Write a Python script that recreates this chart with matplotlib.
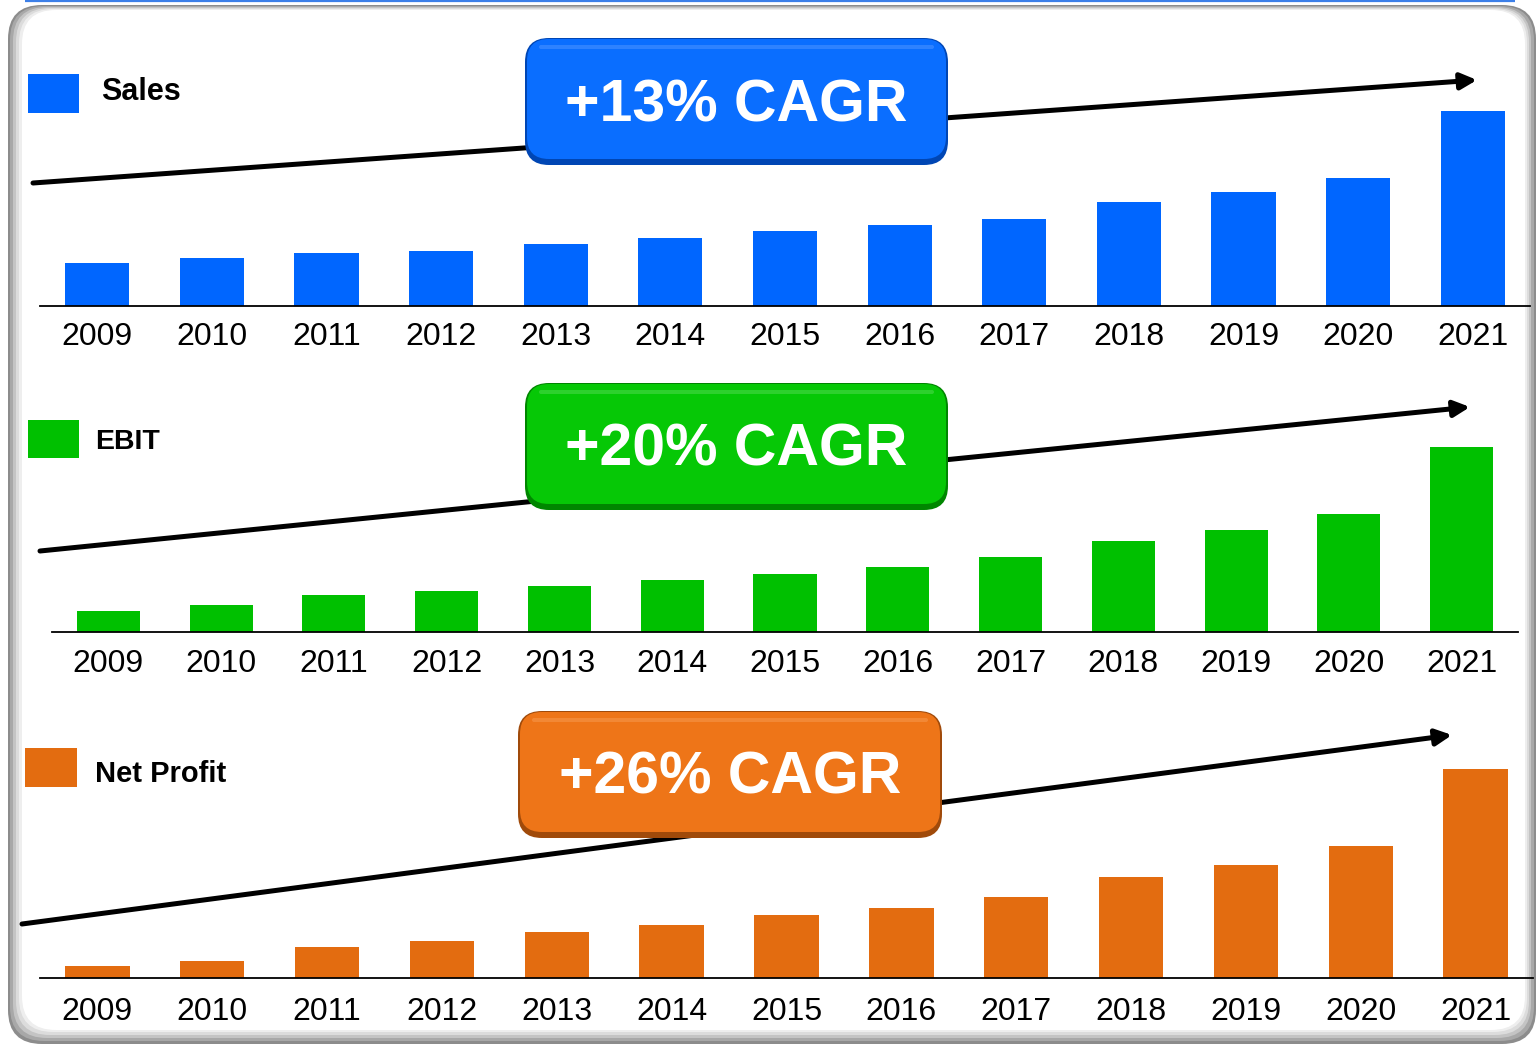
import matplotlib.pyplot as plt
from matplotlib.patches import FancyBboxPatch, FancyArrowPatch, Rectangle

plt.rcParams['font.family'] = ['Liberation Sans', 'DejaVu Sans']

W, H = 1538, 1045

years = [str(y) for y in range(2009, 2022)]
sales = [43, 48, 53, 55, 62, 68, 75, 81, 87, 104, 114, 128, 195]
ebit = [21, 27, 37, 41, 46, 52, 58, 65, 75, 91, 102, 118, 185]
net_profit = [12, 17, 31, 37, 46, 53, 63, 70, 81, 101, 113, 132, 209]

series_names = ['Sales', 'EBIT', 'Net Profit']
cagr_labels = ['+13% CAGR', '+20% CAGR', '+26% CAGR']
bar_colors = ['#0066FF', '#00C000', '#E36C10']
badge_colors = ['#0A6EFF', '#06C806', '#EE7518']
badge_dark = ['#0046B4', '#008600', '#A04A0A']
badge_light = ['#5C9CFF', '#5EDC5E', '#F8A05A']

# panel layout in pixels (top-left origin)
panels = [
    dict(x0=40, x1=1530, base=306, top=100, pad=11.2, sq=(28, 74, 51, 39), tx=(101, 92), fs=22,
         badge=(525, 38, 423, 127), arrow=((33, 183), (1477, 80))),
    dict(x0=52, x1=1518, base=632, top=430, pad=12.6, sq=(28, 420, 51, 38), tx=(95, 442), fs=20.5,
         badge=(525, 383, 423, 127), arrow=((40, 551), (1470, 407))),
    dict(x0=40, x1=1533, base=978, top=750, pad=14, sq=(25, 748, 52, 39), tx=(95, 774), fs=21,
         badge=(518, 711, 424, 127), arrow=((22, 924), (1452, 735))),
]
values = [sales, ebit, net_profit]

fig = plt.figure(figsize=(W / 100, H / 100), dpi=100)

# background frame
bg = fig.add_axes([0, 0, 1, 1], zorder=0)
bg.set_xlim(0, W)
bg.set_ylim(H, 0)
bg.axis('off')
bg.plot([25, 1515], [0.8, 0.8], color='#3C7FE8', lw=1.6, solid_capstyle='butt')
layers = [(8, 5, 1536, 1044, '#8c8c8c'), (10, 6, 1534, 1041, '#a8a8a8'),
          (13, 7, 1531, 1038, '#c4c4c4'), (16, 8, 1529, 1035, '#dcdcdc'),
          (19, 9, 1527, 1032, '#eeeeee'), (22, 10, 1525, 1030, '#ffffff')]
for x0, y0, x1, y1, c in layers:
    bg.add_patch(FancyBboxPatch((x0, y0), x1 - x0, y1 - y0,
                                boxstyle='round,pad=0,rounding_size=34',
                                fc=c, ec='none'))

# bar panels
for p, vals, col in zip(panels, values, bar_colors):
    ax = fig.add_axes([p['x0'] / W, 1 - p['base'] / H,
                       (p['x1'] - p['x0']) / W, (p['base'] - p['top']) / H], zorder=1)
    ax.patch.set_visible(False)
    ax.bar(range(len(years)), vals, width=0.56, color=col)
    ax.set_xlim(-0.5, len(years) - 0.5)
    ax.set_ylim(0, p['base'] - p['top'])
    for s in ['top', 'left', 'right']:
        ax.spines[s].set_visible(False)
    ax.spines['bottom'].set_linewidth(1.3)
    ax.set_yticks([])
    ax.set_xticks(range(len(years)))
    ax.set_xticklabels(years, fontsize=23)
    ax.tick_params(axis='x', length=0, pad=p['pad'])

# overlay: arrows, badges, legend
fg = fig.add_axes([0, 0, 1, 1], zorder=2)
fg.set_xlim(0, W)
fg.set_ylim(H, 0)
fg.axis('off')
fg.patch.set_visible(False)

for p, name, col, lab, bc, bd, bl in zip(panels, series_names, bar_colors, cagr_labels,
                                         badge_colors, badge_dark, badge_light):
    (ax0, ay0), (ax1, ay1) = p['arrow']
    fg.add_patch(FancyArrowPatch((ax0, ay0), (ax1, ay1), arrowstyle='-|>',
                                 mutation_scale=24, lw=3.6, color='black',
                                 shrinkA=0, shrinkB=0, zorder=1))
    x, y, w, h = p['badge']
    fg.add_patch(FancyBboxPatch((x, y), w, h, boxstyle='round,pad=0,rounding_size=24',
                                fc=bd, ec='none', zorder=2))
    fg.add_patch(FancyBboxPatch((x + 2, y + 1), w - 4, h - 7,
                                boxstyle='round,pad=0,rounding_size=22',
                                fc=bc, ec='none', zorder=3))
    fg.add_patch(FancyBboxPatch((x + 14, y + 7), w - 28, 4,
                                boxstyle='round,pad=0,rounding_size=2',
                                fc=bl, ec='none', alpha=0.45, zorder=4))
    fg.text(x + w / 2, y + h / 2 + 4, lab, color='white', fontsize=42.5,
            fontweight='bold', ha='center', va='center', zorder=5)
    sx, sy, sw, sh = p['sq']
    fg.add_patch(Rectangle((sx, sy), sw, sh, fc=col, ec='none'))
    fg.text(p['tx'][0], p['tx'][1], name, fontsize=p['fs'], fontweight='bold',
            ha='left', va='center')

fig.savefig('out.png', dpi=100)
